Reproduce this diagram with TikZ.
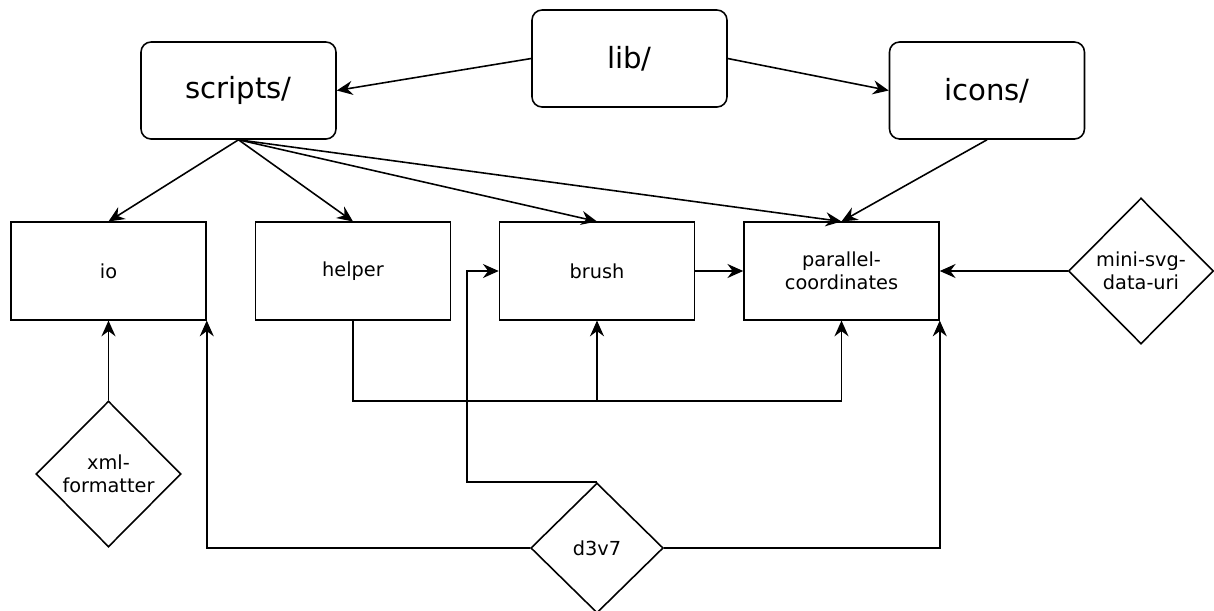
\documentclass[tikz,border=0pt]{standalone}
\usepackage{fontspec}
\setmainfont{DejaVu Sans}
\usetikzlibrary{shapes.geometric,arrows.meta}

\begin{document}
\begin{tikzpicture}[x=0.02cm, y=-0.02cm, line width=0.9pt,
  >={Stealth[length=9pt,width=8pt,inset=3pt]},
  folder/.style={draw, rounded corners=0.2cm, minimum width=3.9cm, minimum height=1.94cm, font=\fontsize{16.6}{20}\selectfont},
  module/.style={draw, minimum width=3.9cm, minimum height=1.95cm, align=center, font=\fontsize{11}{13}\selectfont},
  dep/.style={draw, diamond, inner sep=0pt, align=center, font=\fontsize{11}{13}\selectfont}]

\useasboundingbox (0,0) rectangle (1214,610);

% folders
\node[folder] (lib) at (629.5,58.5) {lib/};
\node[folder] (scripts) at (238.5,90.5) {scripts/};
\node[folder] (icons) at (987,90.5) {icons/};

% modules
\node[module] (io) at (108.5,271) {io};
\node[module] (helper) at (353,271) {helper};
\node[module] (brush) at (597,271) {brush};
\node[module] (para) at (841.5,271) {parallel-\\coordinates};

% dependencies
\node[dep, minimum width=2.9cm, minimum height=2.92cm] (mini) at (1141,271) {mini-svg-\\data-uri};
\node[dep, minimum width=2.9cm, minimum height=2.92cm] (xml) at (108.5,474) {xml-\\formatter};
\node[dep, minimum width=2.65cm, minimum height=2.6cm] (d3v7) at (597,548) {d3v7};

\draw[->] (lib.west) -- (scripts.east);
\draw[->] (lib.east) -- (icons.west);
\foreach \m in {io,helper,brush,para}
  \draw[->] (scripts.south) -- (\m.north);
\draw[->] (icons.south) -- (para.north);
\draw[->] (brush.east) -- (para.west);
\draw[->] (mini.west) -- (para.east);
\draw[->] (xml.north) -- (io.south);

\coordinate (hjoin) at (597,401);
\draw[->] (helper.south) |- (hjoin) -- (brush.south);
\draw[->] (hjoin) -| (para.south);

\coordinate (d3bend) at (467,0);
\draw[->] (d3v7.north) -| (d3bend |- brush.west) -- (brush.west);
\draw[->] (d3v7.west) -| (io.south east);
\draw[->] (d3v7.east) -| (para.south east);

\end{tikzpicture}
\end{document}
